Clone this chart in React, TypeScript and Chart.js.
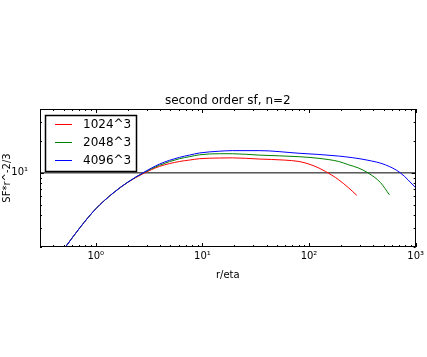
import React, { useEffect, useRef } from 'react';
import { Chart, registerables } from 'chart.js';

Chart.register(...registerables);

const TITLE = 'second order sf, n=2';
const X_LABEL = 'r/eta';
const Y_LABEL = 'SF*r^-2/3';
const SERIES_NAMES = ['1024^3', '2048^3', '4096^3'];
const SERIES_COLORS = ['#ff0000', '#008000', '#0000ff'];

const X_RED = [0.4, 0.52, 0.71, 1.0, 1.45, 2.0, 2.77, 3.96, 6.1, 7.56, 9.4, 14.4, 19.1, 34.1, 58.4, 80.7, 100, 124, 164, 190, 236, 281];
const Y_RED = [1.4, 2.0, 3.04, 4.58, 6.43, 8.15, 9.8, 11.5, 12.8, 13.2, 13.6, 13.8, 13.85, 13.5, 13.2, 12.8, 12.1, 11.1, 9.5, 8.6, 7.2, 6.13];

const X_GREEN = [0.4, 0.52, 0.71, 1.0, 1.45, 2.0, 2.77, 3.96, 6.1, 7.56, 9.4, 14.4, 19.1, 34.1, 80.7, 124, 190, 236, 292, 357, 468, 568];
const Y_GREEN = [1.4, 2.0, 3.04, 4.58, 6.43, 8.18, 9.95, 11.8, 13.6, 14.2, 14.8, 15.15, 15.15, 14.7, 14.2, 13.7, 12.8, 11.9, 11.1, 10.0, 8.1, 6.2];

const X_BLUE = [0.4, 0.52, 0.71, 1.0, 1.45, 2.0, 2.77, 3.96, 6.1, 7.56, 9.4, 14.4, 19.1, 34.1, 80.7, 190, 350, 521, 719, 1007, 1150];
const Y_BLUE = [1.4, 2.0, 3.04, 4.58, 6.43, 8.18, 10.0, 12.1, 14.0, 14.7, 15.4, 16.0, 16.2, 16.2, 15.3, 14.4, 13.2, 11.9, 10.0, 7.2, 6.3];

const H_LINE_Y = 10;
const X_MIN = 0.3;
const X_MAX = 1000;
const Y_MIN = 2;
const Y_MAX = 40;

const FONT = 'DejaVu Sans';
const SUP: Record<string, string> = {
  '-': '\u207B', '0': '\u2070', '1': '\u00B9', '2': '\u00B2', '3': '\u00B3',
  '4': '\u2074', '5': '\u2075', '6': '\u2076', '7': '\u2077', '8': '\u2078', '9': '\u2079',
};

function powLabel(v: number): string {
  const l = Math.log10(v);
  const r = Math.round(l);
  if (Math.abs(l - r) > 1e-9) return '';
  return '10' + String(r).split('').map((c) => SUP[c] || c).join('');
}

function toPoints(xs: number[], ys: number[]) {
  return xs.map((x, i) => ({ x, y: ys[i] }));
}

const frameLegendPlugin = {
  id: 'frameLegend',
  afterDraw(chart: any) {
    const { ctx, chartArea: a, scales } = chart;
    const xs = scales.x;
    const ys = scales.y;
    ctx.save();
    ctx.strokeStyle = '#000';
    ctx.lineWidth = 1;
    for (let e = Math.floor(Math.log10(X_MIN)); e <= Math.ceil(Math.log10(X_MAX)); e++) {
      for (let k = 1; k <= 9; k++) {
        const v = k * Math.pow(10, e);
        if (v < X_MIN * 0.999 || v > X_MAX * 1.001) continue;
        const len = k === 1 ? 4 : 2;
        const p = Math.round(xs.getPixelForValue(v)) + 0.5;
        ctx.beginPath();
        ctx.moveTo(p, a.bottom);
        ctx.lineTo(p, a.bottom - len);
        ctx.moveTo(p, a.top);
        ctx.lineTo(p, a.top + len);
        ctx.stroke();
      }
    }
    for (let e = Math.floor(Math.log10(Y_MIN)); e <= Math.ceil(Math.log10(Y_MAX)); e++) {
      for (let k = 1; k <= 9; k++) {
        const v = k * Math.pow(10, e);
        if (v < Y_MIN * 0.999 || v > Y_MAX * 1.001) continue;
        const len = k === 1 ? 4 : 2;
        const p = Math.round(ys.getPixelForValue(v)) + 0.5;
        ctx.beginPath();
        ctx.moveTo(a.left, p);
        ctx.lineTo(a.left + len, p);
        ctx.moveTo(a.right, p);
        ctx.lineTo(a.right - len, p);
        ctx.stroke();
      }
    }
    ctx.strokeRect(Math.round(a.left) + 0.5, Math.round(a.top) + 0.5,
      Math.round(a.right - a.left) - 1, Math.round(a.bottom - a.top) - 1);

    // legend inside the axes, upper left
    const lx = a.left + 5.5;
    const ly = a.top + 6.5;
    const lw = 91;
    const lh = 56;
    ctx.fillStyle = '#fff';
    ctx.fillRect(lx, ly, lw, lh);
    ctx.strokeStyle = '#000';
    ctx.lineWidth = 1.5;
    ctx.strokeRect(lx, ly, lw, lh);
    ctx.font = `12px "${FONT}"`;
    ctx.textBaseline = 'middle';
    ctx.textAlign = 'left';
    SERIES_NAMES.forEach((name, i) => {
      const y = Math.floor(ly + 9 + i * 18) + 0.5;
      ctx.strokeStyle = SERIES_COLORS[i];
      ctx.lineWidth = 1;
      ctx.beginPath();
      ctx.moveTo(lx + 9.5, y);
      ctx.lineTo(lx + 26.5, y);
      ctx.stroke();
      ctx.fillStyle = '#000';
      ctx.fillText(name, lx + 37.5, y);
    });
    ctx.restore();
  },
};

export default function App() {
  const ref = useRef<HTMLCanvasElement | null>(null);
  useEffect(() => {
    if (!ref.current) return;
    const seriesX = [X_RED, X_GREEN, X_BLUE];
    const seriesY = [Y_RED, Y_GREEN, Y_BLUE];
    const datasets: any[] = SERIES_NAMES.map((name, i) => ({
      label: name,
      data: toPoints(seriesX[i], seriesY[i]),
      borderColor: SERIES_COLORS[i],
      backgroundColor: SERIES_COLORS[i],
      borderWidth: 1,
      pointRadius: 0,
      showLine: true,
      cubicInterpolationMode: 'monotone',
      fill: false,
      order: 3 - i,
    }));
    datasets.push({
      label: 'ref',
      data: [{ x: X_MIN, y: H_LINE_Y }, { x: X_MAX, y: H_LINE_Y }],
      borderColor: '#000',
      backgroundColor: '#000',
      borderWidth: 1,
      pointRadius: 0,
      showLine: true,
      fill: false,
      order: 10,
    });
    const chart = new Chart(ref.current, {
      type: 'scatter',
      data: { datasets },
      options: {
        animation: false,
        responsive: false,
        events: [],
        layout: { padding: { left: 0, right: 10, top: 0, bottom: 0 } },
        plugins: {
          legend: { display: false },
          tooltip: { enabled: false },
          title: {
            display: true,
            text: TITLE,
            fullSize: false,
            color: '#000',
            font: { family: FONT, size: 12, weight: 'normal' },
            padding: { top: 93.8, bottom: 0.8 },
          },
        },
        scales: {
          x: {
            type: 'logarithmic',
            min: X_MIN,
            max: X_MAX,
            grid: { display: false, drawTicks: false },
            border: { display: false },
            ticks: {
              autoSkip: false,
              maxRotation: 0,
              padding: 3,
              color: '#000',
              font: { family: FONT, size: 10 },
              callback: (v: any) => powLabel(Number(v)),
            },
            title: {
              display: true,
              text: X_LABEL,
              color: '#000',
              font: { family: FONT, size: 10 },
              padding: { top: 0, bottom: 76 },
            },
            afterFit: (s: any) => { s.height = 110; },
          },
          y: {
            type: 'logarithmic',
            min: Y_MIN,
            max: Y_MAX,
            grid: { display: false, drawTicks: false },
            border: { display: false },
            ticks: {
              autoSkip: false,
              padding: 12,
              color: '#000',
              font: { family: FONT, size: 10 },
              callback: (v: any) => powLabel(Number(v)),
            },
            title: {
              display: true,
              text: Y_LABEL,
              color: '#000',
              font: { family: FONT, size: 10 },
              padding: { top: 1, bottom: 0 },
            },
            afterFit: (s: any) => { s.width = 40; },
          },
        },
      } as any,
      plugins: [frameLegendPlugin],
    });
    return () => chart.destroy();
  }, []);
  return (
    <div style={{ position: 'absolute', left: 0, top: 0, width: 427, height: 357, background: '#fff' }}>
      <canvas ref={ref} width={427} height={357} />
    </div>
  );
}
